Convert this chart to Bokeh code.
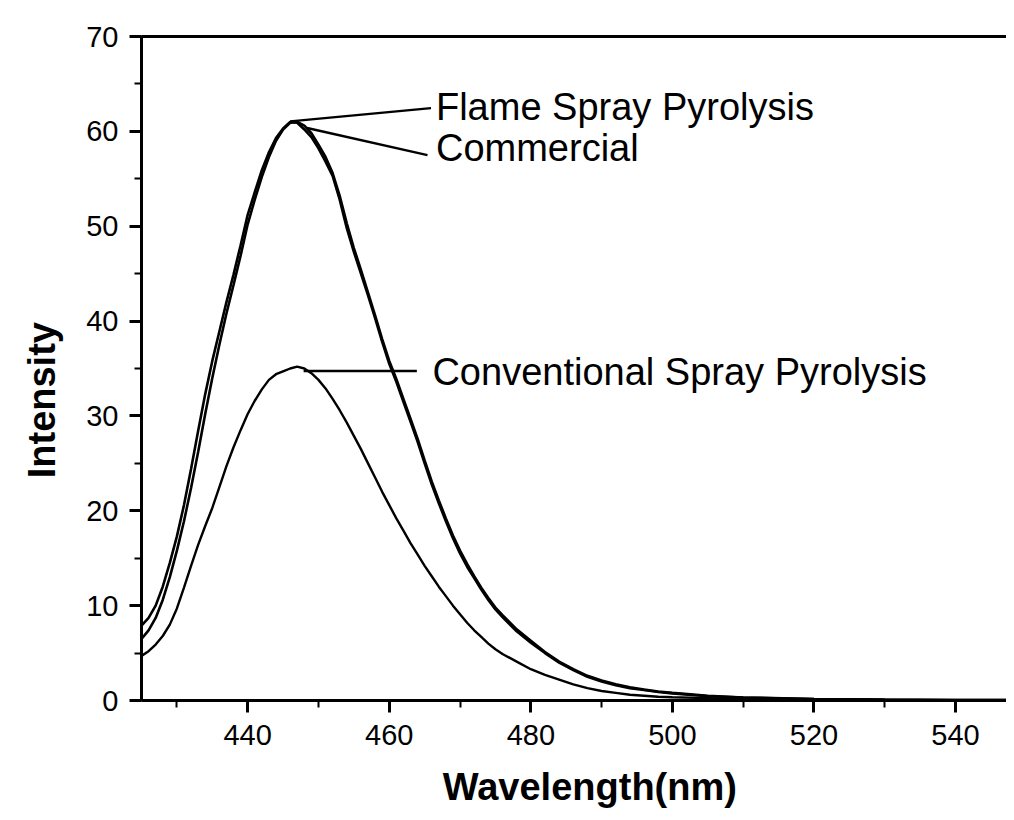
from bokeh.plotting import figure
from bokeh.models import Range1d, SingleIntervalTicker, FixedTicker, LinearAxis, ColumnDataSource
from bokeh.core.properties import value
from bokeh.embed import file_html
from bokeh.resources import INLINE

# ---- data ----
wl_common = [425, 426, 427, 428, 429, 430, 431, 432, 433, 434, 435, 436, 437, 438, 439,
             440, 441, 442, 443, 444, 445, 446, 447, 448, 449, 450, 451, 452, 453, 454,
             455, 456, 457, 458, 459, 460, 461, 462, 463, 464, 465, 466, 467, 468, 469,
             470, 471, 472, 473, 474, 475, 476, 478, 480, 482, 484, 486, 488, 490, 492,
             494, 496, 498, 500, 505, 510, 520, 530, 540, 548]

commercial = [7.9, 8.7, 10.0, 12.0, 14.5, 17.3, 20.6, 24.4, 28.4, 32.3, 35.8, 38.9, 42.0, 44.9, 48.0,
              51.2, 53.6, 55.9, 57.8, 59.3, 60.3, 61.0, 60.9, 60.2, 59.4, 58.2, 56.8, 55.3, 52.8, 49.8,
              47.3, 45.0, 42.7, 40.3, 37.8, 35.5, 33.6, 31.5, 29.4, 27.3, 25.0, 22.8, 20.8, 18.9, 17.1,
              15.5, 14.1, 12.9, 11.7, 10.6, 9.6, 8.8, 7.3, 6.1, 5.0, 4.0, 3.2, 2.5, 2.0, 1.6,
              1.3, 1.1, 0.9, 0.75, 0.45, 0.3, 0.15, 0.08, 0.05, 0.04]

flame_spray = [6.5, 7.4, 8.7, 10.6, 13.0, 15.8, 18.9, 22.4, 26.2, 30.2, 34.0, 37.5, 40.8, 43.8, 46.9,
               50.2, 52.8, 55.2, 57.3, 59.0, 60.2, 60.9, 61.0, 60.6, 59.8, 58.6, 57.3, 55.6, 53.2, 50.3,
               47.7, 45.4, 43.0, 40.6, 38.1, 35.8, 33.9, 31.8, 29.7, 27.6, 25.3, 23.1, 21.1, 19.2, 17.4,
               15.8, 14.4, 13.1, 11.9, 10.8, 9.8, 9.0, 7.5, 6.3, 5.1, 4.1, 3.3, 2.6, 2.1, 1.7,
               1.4, 1.15, 0.95, 0.8, 0.5, 0.32, 0.16, 0.09, 0.05, 0.04]

conventional = [4.7, 5.2, 5.9, 6.8, 8.0, 9.7, 11.9, 14.2, 16.4, 18.4, 20.3, 22.5, 24.7, 26.7, 28.5,
                30.2, 31.6, 32.8, 33.8, 34.4, 34.7, 35.0, 35.2, 35.0, 34.5, 33.8, 32.9, 31.8, 30.6, 29.3,
                27.9, 26.5, 25.0, 23.5, 22.0, 20.6, 19.2, 17.9, 16.6, 15.4, 14.2, 13.1, 12.0, 11.0, 10.0,
                9.1, 8.2, 7.4, 6.7, 6.0, 5.4, 4.9, 4.1, 3.3, 2.7, 2.2, 1.7, 1.3, 1.0, 0.8,
                0.6, 0.5, 0.4, 0.35, 0.25, 0.15, 0.08, 0.05, 0.03, 0.02]

x_tick_step = 20
y_tick_step = 10

# annotation labels: text, leader start (x, y), leader end (x, y), text anchor (x, y)
ann_text = ["Flame Spray Pyrolysis", "Commercial", "Conventional Spray Pyrolysis"]
ann_x0 = [446.0, 448.4, 447.9]
ann_y0 = [61.05, 60.35, 34.74]
ann_x1 = [465.9, 465.4, 463.9]
ann_y1 = [62.45, 57.5, 34.74]
ann_tx = [466.6, 466.6, 466.1]
ann_ty = [62.6, 58.2, 34.6]

FONT = "Liberation Sans"
NBSP = "\u00a0"

p = figure(width=1006, height=812, output_backend="svg", toolbar_location=None,
           x_range=Range1d(425, 547.2), y_range=Range1d(0, 70),
           min_border_left=141, min_border_right=0, min_border_top=36, min_border_bottom=112)
p.background_fill_color = "white"
p.border_fill_color = "white"
p.outline_line_color = None
p.xgrid.visible = False
p.ygrid.visible = False

for ax in (p.xaxis[0], p.yaxis[0]):
    ax.axis_line_width = 3
    ax.axis_line_color = "black"
    ax.major_tick_line_width = 3
    ax.minor_tick_line_width = 2
    ax.major_tick_in = 0
    ax.minor_tick_in = 0
    ax.major_tick_out = 12
    ax.minor_tick_out = 7
    ax.major_label_text_font = FONT
    ax.major_label_text_font_size = "29px"
    ax.major_label_text_color = "black"
    ax.axis_label_text_font = FONT
    ax.axis_label_text_font_style = "bold"
    ax.axis_label_text_font_size = "38px"
    ax.axis_label_text_color = "black"

p.xaxis.ticker = SingleIntervalTicker(interval=x_tick_step, num_minor_ticks=2)
p.yaxis.ticker = SingleIntervalTicker(interval=y_tick_step, num_minor_ticks=2)
p.xaxis.axis_label = NBSP * 3 + "Wavelength(nm)"
p.yaxis.axis_label = "Intensity" + NBSP * 6
p.xaxis.major_label_standoff = 12
p.yaxis.major_label_standoff = 11
p.xaxis.axis_label_standoff = 18
p.yaxis.axis_label_standoff = 20

top = LinearAxis(axis_line_width=3, axis_line_color="black",
                 ticker=FixedTicker(ticks=[]),
                 major_tick_line_color=None, minor_tick_line_color=None)
p.add_layout(top, "above")

p.line(wl_common, commercial, line_color="black", line_width=2.6)
p.line(wl_common, flame_spray, line_color="black", line_width=2.6)
p.line(wl_common, conventional, line_color="black", line_width=2.4)

p.segment(x0=ann_x0, y0=ann_y0, x1=ann_x1, y1=ann_y1, line_color="black", line_width=2.4)
src = ColumnDataSource(dict(x=ann_tx, y=ann_ty, t=ann_text))
p.text(x="x", y="y", text="t", source=src, text_font=value(FONT), text_font_size="38px",
       text_align="left", text_baseline="middle", text_color="black")

open("out.html", "w").write(file_html(p, INLINE))
